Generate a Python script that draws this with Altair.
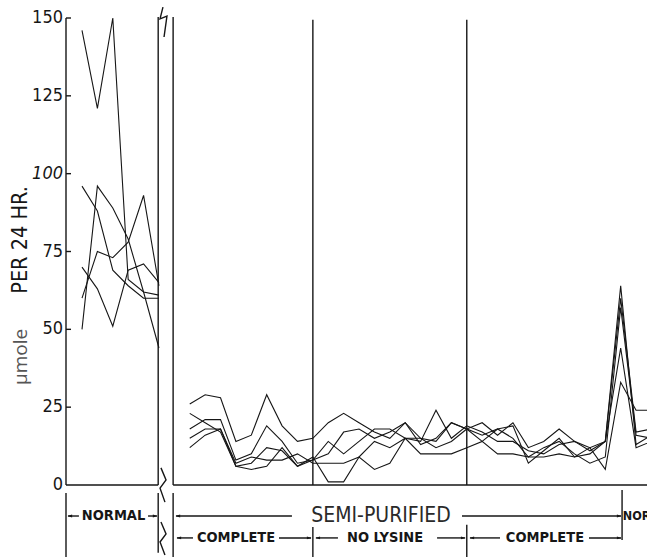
import altair as alt
import pandas as pd

# ---- daily excretion, µmole per 24 hr, five animals -------------------
rats = ["R1", "R2", "R3", "R4", "R5"]

# normal diet, six daily collections
normal_day = [0, 1, 2, 3, 4, 5]
normal_r1 = [146, 121, 150, 66, 62, 61]
normal_r2 = [96, 88, 69, 64, 60, 60]
normal_r3 = [70, 63, 51, 69, 71, 65]
normal_r4 = [60, 75, 73, 78, 93, 64]
normal_r5 = [50, 96, 89, 79, 62, 44]

# semi-purified diet: complete, no lysine, complete, then normal again
semi_day = [7, 8, 9, 10, 11, 12, 13, 14, 15, 16, 17, 18, 19, 20, 21, 22,
            23, 24, 25, 26, 27, 28, 29, 30, 31, 32, 33, 34, 35, 36, 37]
semi_r1 = [26, 29, 28, 14, 16, 29, 19, 14, 15, 20, 23, 20, 17, 15, 20, 15,
           14, 20, 18, 20, 16, 20, 12, 14, 18, 14, 11, 14, 64, 13, 16]
semi_r2 = [23, 20, 17, 6, 5, 6, 12, 6, 9, 1, 1, 9, 5, 7, 15, 15,
           12, 14, 18, 16, 18, 15, 9, 12, 14, 10, 7, 9, 57, 16, 15]
semi_r3 = [18, 21, 21, 8, 10, 19, 14, 7, 8, 14, 10, 14, 18, 18, 15, 14,
           24, 15, 19, 17, 14, 14, 11, 10, 13, 14, 12, 14, 60, 17, 18]
semi_r4 = [15, 18, 18, 7, 9, 8, 8, 10, 7, 7, 7, 9, 14, 12, 15, 10,
           10, 10, 12, 14, 10, 10, 9, 9, 10, 9, 12, 5, 33, 24, 24]
semi_r5 = [12, 16, 18, 6, 7, 12, 11, 6, 8, 10, 17, 18, 15, 17, 20, 13,
           15, 20, 18, 14, 18, 19, 7, 11, 15, 9, 10, 14, 44, 12, 14]

y_ticks = [0, 25, 50, 75, 100, 125, 150]
y_tick_labels = ["0", "25", "50", "75", "100", "125", "150"]

# diet-period boundaries on the day axis
break_left, break_right = 4.95, 5.92
lysine_start, lysine_end, normal_again = 15.0, 25.0, 35.09
x_min, x_max = -1.04, 36.71

INK = "#161616"
LETTER = "DejaVu Sans Condensed, Liberation Sans Narrow, DejaVu Sans, sans-serif"

rows = []
normal_sets = [normal_r1, normal_r2, normal_r3, normal_r4, normal_r5]
semi_sets = [semi_r1, semi_r2, semi_r3, semi_r4, semi_r5]
for rat, vals in zip(rats, normal_sets):
    for d, v in zip(normal_day, vals):
        rows.append({"series": rat + "-normal", "pos": d, "value": v})
for rat, vals in zip(rats, semi_sets):
    for d, v in zip(semi_day, vals):
        rows.append({"series": rat + "-semi", "pos": d, "value": v})
df = pd.DataFrame(rows)

xs = alt.Scale(domain=[x_min, x_max], nice=False, zero=False)
ys = alt.Scale(domain=[0, 150], nice=False, zero=False)


def xy(chart):
    """Shared x/y encoding in day / µmole units."""
    return chart.encode(
        x=alt.X("x:Q", scale=xs, axis=None),
        y=alt.Y("y:Q", scale=ys, axis=None),
    )


lines = alt.Chart(df).mark_line(color=INK, strokeWidth=1.1).encode(
    x=alt.X("pos:Q", scale=xs, axis=None),
    y=alt.Y("value:Q", scale=ys, axis=None),
    detail="series:N",
    order="pos:Q",
)

# frame lines: axes (x broken), diet-period dividers, lower brackets
row1, row2 = -9.96, -17.0
frame = pd.DataFrame([
    # y axis
    {"x": x_min, "x2": x_min, "y": 0, "y2": 150},
    # x axis on both sides of the break
    {"x": x_min, "x2": break_left, "y": 0, "y2": 0},
    {"x": break_right, "x2": x_max, "y": 0, "y2": 0},
    # dividers through the plot
    {"x": break_left, "x2": break_left, "y": 0, "y2": 150.3},
    {"x": break_right, "x2": break_right, "y": 0, "y2": 150.3},
    {"x": lysine_start, "x2": lysine_start, "y": 0, "y2": 149.4},
    {"x": lysine_end, "x2": lysine_end, "y": 0, "y2": 149.4},
    # extensions below the axis
    {"x": x_min, "x2": x_min, "y": -2.6, "y2": -23.2},
    {"x": break_left, "x2": break_left, "y": -2.6, "y2": -21.8},
    {"x": break_right, "x2": break_right, "y": -2.6, "y2": -23.2},
    {"x": lysine_start, "x2": lysine_start, "y": -13.5, "y2": -23.2},
    {"x": lysine_end, "x2": lysine_end, "y": -12.8, "y2": -23.2},
    {"x": normal_again, "x2": normal_again, "y": -1.6, "y2": -17.7},
    # bracket arrows, first row
    {"x": -0.91, "x2": -0.2, "y": row1, "y2": row1},
    {"x": 4.29, "x2": 4.87, "y": row1, "y2": row1},
    {"x": 6.11, "x2": 13.64, "y": row1, "y2": row1},
    {"x": 24.69, "x2": 35.02, "y": row1, "y2": row1},
    # bracket arrows, second row
    {"x": 6.17, "x2": 7.21, "y": row2, "y2": row2},
    {"x": 12.8, "x2": 14.88, "y": row2, "y2": row2},
    {"x": 15.2, "x2": 16.63, "y": row2, "y2": row2},
    {"x": 23.07, "x2": 24.89, "y": row2, "y2": row2},
    {"x": 25.21, "x2": 27.16, "y": row2, "y2": row2},
    {"x": 32.94, "x2": 35.02, "y": row2, "y2": row2},
])
frame_rules = xy(alt.Chart(frame).mark_rule(color=INK, strokeWidth=1.4)).encode(
    x2="x2:Q", y2="y2:Q"
)

# inward tick marks and labels on the y axis
tick_df = pd.DataFrame({"y": y_ticks[1:]})
tick_rules = alt.Chart(tick_df).mark_rule(color=INK, strokeWidth=1.4).encode(
    x=alt.value(0), x2=alt.value(5),
    y=alt.Y("y:Q", scale=ys, axis=None),
)
label_df = pd.DataFrame({"y": y_ticks, "t": y_tick_labels,
                         "s": ["normal"] * 4 + ["italic"] + ["normal"] * 2})
tick_text_plain = alt.Chart(label_df).transform_filter("datum.s == 'normal'").mark_text(
    font=LETTER, fontSize=18, color=INK, align="right", baseline="middle"
).encode(
    x=alt.value(-3),
    y=alt.Y("y:Q", scale=ys, axis=None),
    text="t:N",
)
tick_text_italic = alt.Chart(label_df).transform_filter("datum.s == 'italic'").mark_text(
    font=LETTER, fontSize=18, fontStyle="italic", color=INK, align="right", baseline="middle"
).encode(
    x=alt.value(-3),
    y=alt.Y("y:Q", scale=ys, axis=None),
    text="t:N",
)

# axis-break zigzags
zig = pd.DataFrame([
    {"g": "top", "o": 0, "x": 5.26, "y": 153.5},
    {"g": "top", "o": 1, "x": 5.07, "y": 149.7},
    {"g": "top", "o": 2, "x": 5.52, "y": 150.6},
    {"g": "top", "o": 3, "x": 5.33, "y": 143.9},
    {"g": "axis", "o": 0, "x": 5.13, "y": 5.5},
    {"g": "axis", "o": 1, "x": 5.46, "y": 1.6},
    {"g": "axis", "o": 2, "x": 5.07, "y": -1.0},
    {"g": "axis", "o": 3, "x": 5.39, "y": -5.5},
    {"g": "low", "o": 0, "x": 5.13, "y": -11.9},
    {"g": "low", "o": 1, "x": 5.46, "y": -15.7},
    {"g": "low", "o": 2, "x": 5.07, "y": -18.3},
    {"g": "low", "o": 3, "x": 5.39, "y": -22.5},
])
zigzags = xy(alt.Chart(zig).mark_line(color=INK, strokeWidth=1.4)).encode(
    detail="g:N", order="o:Q"
)

# arrowheads of the brackets
heads_left = pd.DataFrame({
    "x": [-0.95, 6.07, 6.13, 15.16, 25.17],
    "y": [row1, row1, row2, row2, row2],
})
heads_right = pd.DataFrame({
    "x": [4.91, 35.06, 14.92, 24.93, 35.06],
    "y": [row1, row1, row2, row2, row2],
})
left_arrows = xy(alt.Chart(heads_left).mark_point(
    shape="M0,0 L1,-0.3 L1,0.3 Z", filled=True, color=INK, opacity=1, size=90
))
right_arrows = xy(alt.Chart(heads_right).mark_point(
    shape="M0,0 L-1,-0.3 L-1,0.3 Z", filled=True, color=INK, opacity=1, size=90
))

# period labels
bold_labels = pd.DataFrame({
    "x": [2.05, 10.01, 19.69, 30.08],
    "y": [row1, row2, row2, row2],
    "t": ["NORMAL", "COMPLETE", "NO LYSINE", "COMPLETE"],
})
bold_text = xy(alt.Chart(bold_labels).mark_text(
    font=LETTER, fontSize=14.5, fontWeight="bold", color=INK, baseline="middle"
)).encode(text="t:N")

# the returning normal period runs on past the right edge
tail_label = pd.DataFrame({"x": [35.14], "y": [row1], "t": ["NORMAL"]})
tail_text = xy(alt.Chart(tail_label).mark_text(
    font=LETTER, fontSize=12.5, fontWeight="bold", color=INK, baseline="middle", align="left"
)).encode(text="t:N")

semi_label = pd.DataFrame({"x": [19.43], "y": [row1], "t": ["SEMI-PURIFIED"]})
semi_text = xy(alt.Chart(semi_label).mark_text(
    font=LETTER, fontSize=21, fontWeight="normal", color="#2a2a2a", baseline="middle"
)).encode(text="t:N")

# y-axis title in two typefaces
title_main = alt.Chart(pd.DataFrame({"t": ["PER 24 HR."]})).mark_text(
    font=LETTER, fontSize=21.5, fontWeight="normal", color=INK, angle=270,
    align="center", baseline="middle"
).encode(text="t:N", x=alt.value(-45.5), y=alt.value(222))
title_unit = alt.Chart(pd.DataFrame({"t": ["µmole"]})).mark_text(
    font="Open Sans, DejaVu Sans, sans-serif", fontSize=19, fontWeight="normal",
    color="#555555", angle=270, align="center", baseline="middle"
).encode(text="t:N", x=alt.value(-45.5), y=alt.value(339))

chart = alt.layer(
    frame_rules, tick_rules, tick_text_plain, tick_text_italic, zigzags, lines,
    left_arrows, right_arrows, bold_text, tail_text, semi_text, title_main, title_unit,
).properties(
    width=581, height=467,
    autosize=alt.AutoSizeParams(type="none"),
    padding={"left": 66, "top": 18, "right": 0, "bottom": 72},
    background="white",
).configure_view(stroke=None)

chart.save("out.html", embed_options={"renderer": "svg", "actions": False})
